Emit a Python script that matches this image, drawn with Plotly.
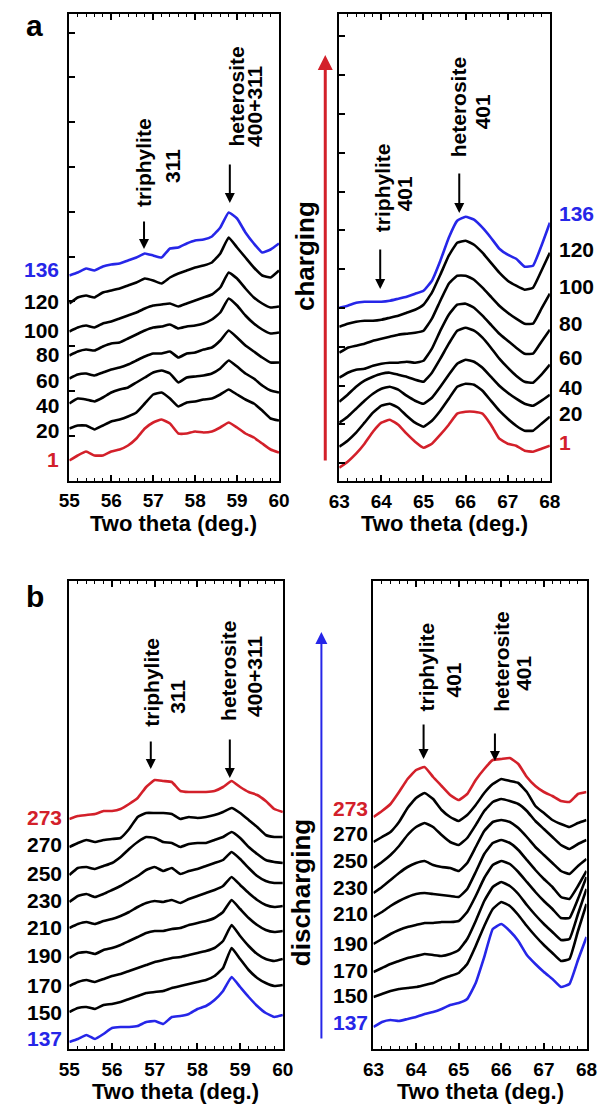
import plotly.graph_objects as go

W, H = 611, 1105
RED = "#d3202a"
BLUE = "#2626e8"
BLACK = "#000000"
FONT = "Liberation Sans, Arial, sans-serif"

# ---------------- data: two-theta scan grids (deg.) ----------------
theta_311 = [55.0, 55.2, 55.4, 55.6, 55.8, 56.0, 56.2, 56.4, 56.6, 56.8, 57.0, 57.2, 57.4,
             57.6, 57.8, 58.0, 58.2, 58.4, 58.6, 58.8, 59.0, 59.2, 59.4, 59.6, 59.8, 60.0]
theta_401 = [63.0, 63.2, 63.4, 63.6, 63.8, 64.0, 64.2, 64.4, 64.6, 64.8, 65.0, 65.2, 65.4,
             65.6, 65.8, 66.0, 66.2, 66.4, 66.6, 66.8, 67.0, 67.2, 67.4, 67.6, 67.8, 68.0]

# ---------------- (a) charging: scan numbers, stacking offsets, intensities ----------------
a_scans = ["1", "20", "40", "60", "80", "100", "120", "136"]
a311_offsets = [20, 52, 77, 102, 125, 149, 177, 205]
a401_offsets = [13, 34, 58, 79, 103, 128, 154, 173]

a311_c001 = [0, 5, 9, 5, 5, 9, 11, 15, 22, 32, 38, 41, 37, 27, 27, 29, 28, 29, 33, 38, 33, 27, 23, 17, 11, 8]
a311_c020 = [0, 3, 3, -1, 3, 7, 9, 12, 16, 25, 34, 36, 30, 22, 26, 27, 29, 30, 34, 39, 34, 29, 25, 18, 10, 8]
a311_c040 = [0, 5, 4, 2, 6, 11, 14, 16, 21, 26, 31, 33, 30, 21, 26, 27, 28, 30, 35, 43, 37, 30, 25, 18, 13, 11]
a311_c060 = [0, 4, 5, 3, 6, 9, 11, 14, 18, 22, 25, 25, 27, 21, 25, 26, 29, 31, 38, 48, 41, 33, 27, 21, 16, 16]
a311_c080 = [0, 4, 6, 5, 9, 12, 13, 17, 21, 25, 28, 29, 31, 27, 29, 30, 32, 36, 43, 57, 50, 40, 32, 26, 22, 23]
a311_c100 = [0, 4, 6, 4, 8, 10, 13, 16, 19, 23, 26, 27, 28, 25, 28, 31, 34, 37, 44, 59, 53, 43, 34, 28, 24, 25]
a311_c120 = [0, 6, 8, 6, 11, 13, 15, 18, 21, 25, 23, 20, 26, 30, 33, 36, 38, 41, 50, 66, 56, 46, 36, 28, 26, 33]
a311_c136 = [0, 3, 7, 5, 9, 11, 12, 15, 18, 22, 20, 18, 27, 28, 32, 35, 36, 39, 48, 63, 57, 43, 32, 23, 26, 32]

a401_c001 = [0, 6, 14, 24, 36, 45, 48, 43, 34, 26, 20, 24, 33, 43, 54, 56, 56, 54, 43, 29, 24, 22, 17, 16, 19, 22]
a401_c020 = [0, 6, 14, 24, 34, 41, 43, 39, 31, 24, 20, 26, 36, 48, 60, 63, 62, 56, 46, 36, 28, 21, 16, 16, 23, 30]
a401_c040 = [0, 6, 14, 22, 29, 34, 36, 33, 27, 22, 19, 25, 36, 48, 59, 63, 61, 55, 46, 37, 30, 24, 19, 17, 22, 28]
a401_c060 = [0, 7, 15, 21, 25, 28, 29, 27, 25, 22, 20, 29, 43, 58, 71, 74, 71, 64, 54, 43, 34, 26, 20, 19, 27, 37]
a401_c080 = [0, 5, 8, 9, 12, 14, 15, 15, 16, 15, 17, 29, 47, 63, 73, 74, 70, 62, 53, 44, 37, 30, 24, 24, 36, 48]
a401_c100 = [0, 5, 7, 9, 12, 14, 16, 18, 19, 20, 22, 34, 52, 69, 77, 77, 73, 65, 56, 47, 40, 34, 29, 29, 44, 59]
a401_c120 = [0, 3, 5, 6, 6, 7, 9, 11, 14, 17, 22, 34, 52, 71, 84, 86, 82, 74, 64, 54, 46, 41, 37, 39, 56, 74]
a401_c136 = [0, 2, 5, 6, 6, 6, 7, 9, 11, 14, 17, 27, 47, 70, 87, 91, 88, 80, 70, 59, 53, 49, 41, 42, 62, 85]

# ---------------- (b) discharging ----------------
b_scans = ["137", "150", "170", "190", "210", "230", "250", "270", "273"]
b311_offsets = [7, 37, 63, 91, 121, 147, 174, 202, 230]
b401_offsets = [22, 52, 77, 105, 132, 156, 181, 207, 232]

b311_c137 = [0, 3, 7, 3, 8, 14, 15, 15, 16, 20, 21, 18, 25, 26, 28, 33, 36, 42, 51, 65, 55, 45, 36, 29, 25, 27]
b311_c150 = [0, 4, 5, 3, 7, 8, 10, 13, 16, 19, 20, 21, 24, 26, 28, 30, 32, 36, 44, 64, 53, 42, 34, 29, 26, 27]
b311_c170 = [0, 4, 6, 4, 7, 10, 12, 15, 18, 21, 24, 26, 28, 29, 31, 33, 35, 38, 45, 61, 50, 40, 32, 27, 25, 27]
b311_c190 = [0, 5, 6, 4, 8, 10, 13, 17, 21, 25, 27, 27, 29, 30, 33, 35, 37, 40, 46, 58, 49, 40, 33, 28, 26, 27]
b311_c210 = [0, 4, 6, 4, 7, 9, 12, 16, 21, 25, 27, 26, 28, 25, 29, 32, 35, 38, 42, 51, 43, 35, 28, 23, 21, 22]
b311_c230 = [0, 6, 8, 5, 8, 12, 16, 21, 26, 32, 35, 31, 34, 28, 31, 33, 36, 39, 42, 50, 43, 34, 26, 21, 19, 19]
b311_c250 = [0, 7, 8, 6, 9, 12, 18, 26, 33, 38, 37, 33, 32, 28, 31, 32, 32, 35, 38, 43, 37, 28, 21, 15, 13, 12]
b311_c270 = [0, 4, 7, 5, 7, 8, 9, 18, 30, 34, 34, 34, 33, 28, 30, 29, 30, 32, 35, 39, 34, 27, 20, 12, 10, 10]
b311_c273 = [0, 3, 4, 5, 8, 8, 10, 15, 21, 32, 39, 38, 37, 28, 27, 27, 27, 28, 32, 38, 32, 27, 24, 18, 10, 7]

b401_c137 = [0, 5, 7, 6, 8, 10, 13, 15, 18, 22, 24, 28, 44, 70, 98, 103, 96, 86, 72, 63, 55, 48, 40, 43, 67, 90]
b401_c150 = [0, 3, 6, 8, 9, 10, 12, 14, 18, 21, 24, 33, 51, 71, 88, 95, 91, 82, 71, 61, 52, 44, 36, 38, 66, 93]
b401_c170 = [0, 4, 8, 11, 14, 16, 18, 17, 16, 18, 22, 33, 51, 71, 85, 90, 86, 78, 67, 57, 48, 40, 32, 33, 58, 83]
b401_c190 = [0, 5, 10, 14, 17, 19, 21, 21, 22, 22, 23, 32, 48, 66, 79, 83, 80, 72, 62, 52, 43, 35, 26, 26, 45, 67]
b401_c210 = [0, 5, 11, 16, 20, 23, 24, 23, 22, 21, 20, 28, 45, 63, 74, 77, 74, 67, 57, 47, 38, 30, 20, 18, 31, 46]
b401_c230 = [0, 6, 13, 20, 26, 30, 32, 28, 26, 25, 22, 30, 46, 62, 71, 73, 71, 65, 56, 46, 38, 30, 22, 19, 27, 34]
b401_c250 = [0, 6, 13, 22, 33, 41, 45, 41, 33, 26, 23, 30, 43, 57, 66, 69, 67, 64, 57, 47, 39, 31, 23, 19, 24, 28]
b401_c270 = [0, 5, 10, 20, 34, 44, 49, 43, 32, 25, 21, 27, 37, 49, 58, 63, 61, 59, 50, 36, 29, 22, 18, 15, 19, 22]
b401_c273 = [0, 6, 13, 25, 38, 47, 50, 40, 31, 22, 17, 23, 37, 48, 57, 58, 59, 53, 40, 31, 25, 21, 16, 15, 23, 25]

a311_curves = [a311_c001, a311_c020, a311_c040, a311_c060, a311_c080, a311_c100, a311_c120, a311_c136]
a401_curves = [a401_c001, a401_c020, a401_c040, a401_c060, a401_c080, a401_c100, a401_c120, a401_c136]
b311_curves = [b311_c137, b311_c150, b311_c170, b311_c190, b311_c210, b311_c230, b311_c250, b311_c270, b311_c273]
b401_curves = [b401_c137, b401_c150, b401_c170, b401_c190, b401_c210, b401_c230, b401_c250, b401_c270, b401_c273]


def px(x, y):
    """pixel position on the page -> paper coordinates"""
    return x / W, 1 - y / H


def a_color(i):
    return RED if i == 0 else (BLUE if i == len(a_scans) - 1 else BLACK)


def b_color(i):
    return BLUE if i == 0 else (RED if i == len(b_scans) - 1 else BLACK)


# ---------------- panel geometry (page pixels) ----------------
panels = [
    dict(theta=theta_311, curves=a311_curves, offsets=a311_offsets, color=a_color,
         box=(60.5, 278, 14, 480.5), xr=[55, 60], yr=[0, 466.5], ytick=(0, 44.8)),
    dict(theta=theta_401, curves=a401_curves, offsets=a401_offsets, color=a_color,
         box=(340.5, 559, 14, 480.7), xr=[63, 68], yr=[0, 466.7], ytick=(17.5, 38.8)),
    dict(theta=theta_311, curves=b311_curves, offsets=b311_offsets, color=b_color,
         box=(60.5, 282, 581, 1049), xr=[55, 60], yr=[0, 468], ytick=None),
    dict(theta=theta_401, curves=b401_curves, offsets=b401_offsets, color=b_color,
         box=(376, 597, 581, 1049), xr=[63, 68], yr=[0, 468], ytick=None),
]

fig = go.Figure()
layout_axes = {}
for k, p in enumerate(panels):
    sfx = "" if k == 0 else str(k + 1)
    for i, (prof, off) in enumerate(zip(p["curves"], p["offsets"])):
        fig.add_trace(go.Scatter(
            x=p["theta"], y=[v + off for v in prof], mode="lines",
            line=dict(color=p["color"](i), width=2.6, shape="spline", smoothing=0.35),
            xaxis="x" + sfx, yaxis="y" + sfx, showlegend=False, hoverinfo="skip"))
    l, r, t, b = p["box"]
    layout_axes["xaxis" + sfx] = dict(
        domain=[l / W, r / W], range=p["xr"], anchor="y" + sfx,
        showline=True, linecolor=BLACK, linewidth=2, mirror="ticks",
        ticks="inside", ticklen=6, tickwidth=1.5, tickcolor=BLACK,
        tick0=p["xr"][0], dtick=1,
        minor=dict(ticks="inside", ticklen=3, tickwidth=1.2, tickcolor=BLACK, dtick=0.2),
        showgrid=False, zeroline=False,
        tickfont=dict(family=FONT, size=19, color=BLACK, weight="bold"),
        ticklabelstandoff=2)
    yax = dict(
        domain=[1 - b / H, 1 - t / H], range=p["yr"], anchor="x" + sfx,
        showline=True, linecolor=BLACK, linewidth=2, mirror=True,
        showgrid=False, zeroline=False, showticklabels=False)
    if p["ytick"]:
        yax.update(ticks="inside", ticklen=6, tickwidth=1.5, tickcolor=BLACK,
                   tick0=p["ytick"][0], dtick=p["ytick"][1])
    else:
        yax.update(ticks="")
    layout_axes["yaxis" + sfx] = yax

ann = []


def text(x, y, s, size=21, color=BLACK, angle=0, xanchor="center"):
    xp, yp = px(x, y)
    ann.append(dict(x=xp, y=yp, xref="paper", yref="paper", text=s, showarrow=False,
                    textangle=angle, xanchor=xanchor, yanchor="middle", borderpad=0,
                    font=dict(family=FONT, size=size, color=color, weight="bold")))


def arrow(x, y_tail, y_tip, color=BLACK, width=2, size=1.0):
    xp, yp = px(x, y_tip)
    ann.append(dict(x=xp, y=yp, xref="paper", yref="paper", text="", showarrow=True,
                    ax=0, ay=y_tail - y_tip, arrowhead=2, arrowsize=size,
                    arrowwidth=width, arrowcolor=color))


# panel letters
text(24, 25, "a", size=30)
text(25, 596, "b", size=30)

# axis titles
for cx, cy in [(169, 523), (450, 523), (171, 1091), (487, 1091)]:
    text(cx, cy, "Two theta (deg.)", size=22)

# scan-number labels
a311_label_y = [459, 431, 405, 380, 355, 330, 302, 269]
a401_label_y = [442, 413, 388, 358, 323, 287, 250, 214]
b311_label_y = [1038, 1012, 985, 955, 927, 900, 873, 845, 817]
b401_label_y = [1022, 995, 970, 943, 914, 887, 860, 833, 808]
for i, s in enumerate(a_scans):
    text(51, a311_label_y[i], s, color=a_color(i), xanchor="right")
    text(567, a401_label_y[i], s, color=a_color(i), xanchor="left")
for i, s in enumerate(b_scans):
    text(54, b311_label_y[i], s, color=b_color(i), xanchor="right")
    text(371, b401_label_y[i], s, color=b_color(i), xanchor="right")

# reflection markers
text(137, 163, "triphylite", angle=-90)
text(167, 166, "311", angle=-90)
arrow(138, 220, 249)
text(233, 97, "heterosite", angle=-90)
text(253, 106, "400+311", angle=-90)
arrow(227, 163, 203)

text(385, 188, "triphylite", angle=-90)
text(408, 194, "401", angle=-90)
arrow(383, 248, 289)
text(465, 107, "heterosite", angle=-90)
text(490, 112, "401", angle=-90)
arrow(465, 172, 213)

text(145, 682, "triphylite", angle=-90)
text(172, 697, "311", angle=-90)
arrow(145, 740, 769)
text(225, 671, "heterosite", angle=-90)
text(252, 676, "400+311", angle=-90)
arrow(227, 738, 778)

text(430, 667, "triphylite", angle=-90)
text(458, 680, "401", angle=-90)
arrow(428, 723, 759)
text(508, 662, "heterosite", angle=-90)
text(532, 673, "401", angle=-90)
arrow(502, 732, 761)

# charging / discharging direction
arrow(326, 462, 55, color=RED, width=3, size=1.0)
text(305, 256, "charging", size=26, angle=-90)
arrow(322, 1040, 632, color=BLUE, width=2, size=1.2)
text(301, 893, "discharging", size=26, angle=-90)

fig.update_layout(
    width=W, height=H, margin=dict(l=0, r=0, t=0, b=0),
    paper_bgcolor="white", plot_bgcolor="white", showlegend=False,
    annotations=ann, **layout_axes)

fig.write_html("out.html")
